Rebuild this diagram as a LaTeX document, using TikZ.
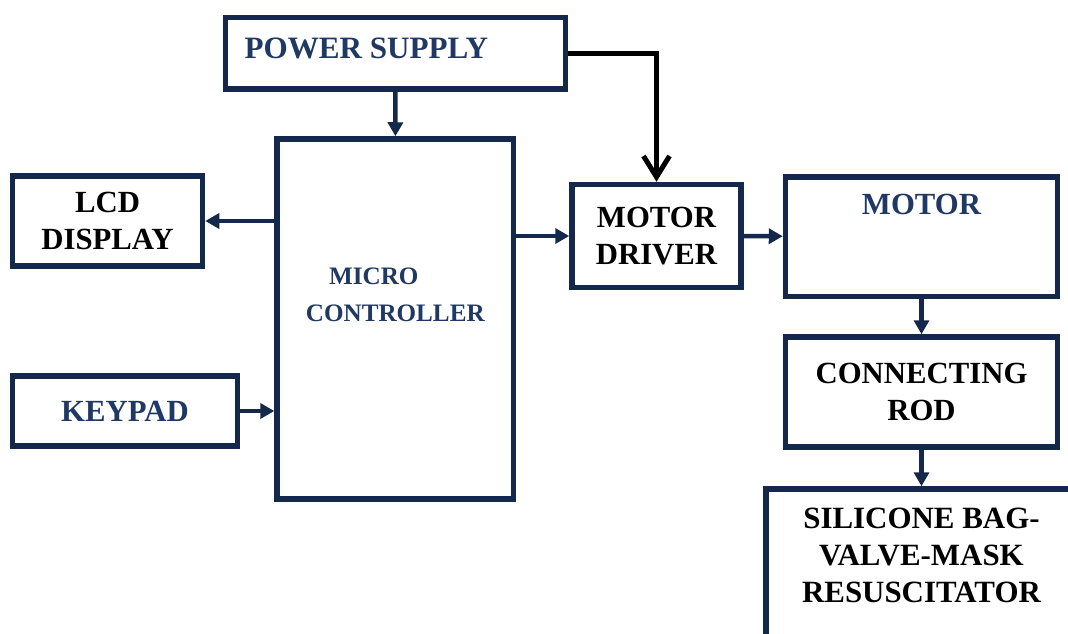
\documentclass[tikz,border=0pt]{standalone}
\usepackage{fontspec}
\setmainfont{Liberation Serif}
\usetikzlibrary{arrows.meta,positioning}
\definecolor{navy}{HTML}{14284B}
\definecolor{txtblue}{HTML}{1F3864}

\begin{document}
\begin{tikzpicture}[
    blk/.style={draw=navy, line width=0.11cm, inner sep=2pt, align=center,
        font=\bfseries\fontsize{17.5}{21}\selectfont},
    lbl/.style={inner sep=0pt, align=center, font=\bfseries\fontsize{17.5}{21}\selectfont},
    arr/.style={draw=navy, line width=0.09cm, -{Triangle[length=0.28cm,width=0.3cm]}},
    pwr/.style={line width=0.1cm, -{Straight Barb[length=0.42cm,width=0.52cm]}}
]
    \useasboundingbox (0,0) rectangle (21.36,12.66);
    \clip (0,0) rectangle (21.36,12.66);
    % blocks
    \node[blk, minimum width=6.8cm, minimum height=1.43cm] (psu) at (7.91,11.595) {};
    \node[blk, minimum width=4.73cm, minimum height=7.2cm] (mcu) at (7.906,6.28) {};
    \node[blk, minimum width=3.8cm, minimum height=1.8cm] (lcd) at (2.15,8.24) {LCD\\DISPLAY};
    \node[blk, minimum width=4.5cm, minimum height=1.4cm, text=txtblue] (keypad) at (2.5,4.44) {KEYPAD};
    \node[blk, minimum width=3.38cm, minimum height=2.06cm] (driver) at (13.13,7.94) {MOTOR\\DRIVER};
    \node[blk, minimum width=5.44cm, minimum height=2.39cm] (motor) at (18.43,7.93) {};
    \node[blk, minimum width=5.44cm, minimum height=2.2cm] (rod) at (18.43,4.82) {CONNECTING\\ROD};
    \node[blk, minimum width=6.22cm, minimum height=4.22cm] (bvm) at (18.43,0.77) {};
    % texts not centred in their blocks
    \node[lbl, text=txtblue, anchor=west, font=\bfseries\fontsize{17.7}{21}\selectfont] (psutxt)
        at ([xshift=0.43cm, yshift=0.1cm]psu.west) {POWER SUPPLY};
    \node[lbl, text=txtblue, font=\bfseries\fontsize{14.3}{20.8}\selectfont] (mcutxt)
        at ([yshift=0.48cm]mcu.center) {MICRO\hspace*{0.86cm}\\CONTROLLER};
    \node[lbl, text=txtblue, below=0.4cm of motor.north] (motortxt) {MOTOR};
    \node[lbl, font=\bfseries\fontsize{17.6}{21.3}\selectfont, below=0.42cm of bvm.north] (bvmtxt)
        {SILICONE BAG-\\VALVE-MASK\\RESUSCITATOR};
    % connections
    \draw[arr] (psu) -- (mcu);
    \draw[pwr] (psu.east) -| (driver.north);
    \draw[arr] (mcu.west |- lcd.east) -- (lcd.east);
    \draw[arr] (keypad.east) -- (keypad.east -| mcu.west);
    \draw[arr] (mcu.east |- driver.west) -- (driver.west);
    \draw[arr] (driver) -- (motor);
    \draw[arr] (motor) -- (rod);
    \draw[arr] (rod) -- (bvm);
\end{tikzpicture}
\end{document}
